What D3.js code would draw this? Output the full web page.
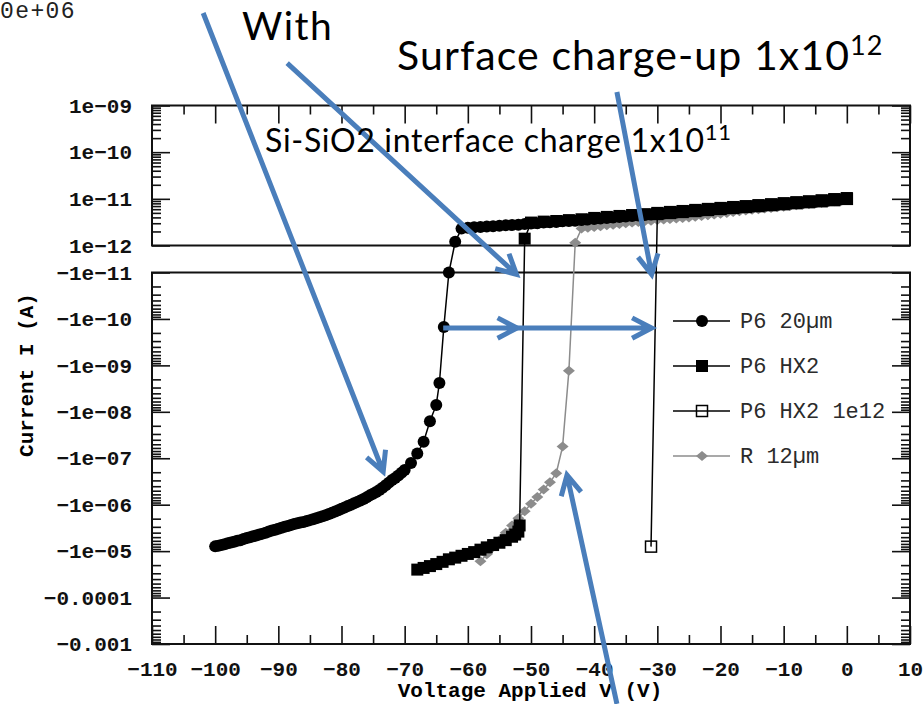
<!DOCTYPE html>
<html>
<head>
<meta charset="utf-8">
<script src="https://cdn.jsdelivr.net/npm/d3@7"></script>
<style>
  body { margin: 0; background: #fff; }
  svg { display: block; }
</style>
</head>
<body>
<svg width="924" height="704"></svg>
<script>
// axis ticks and labels
var xTicks = [-110, -100, -90, -80, -70, -60, -50, -40, -30, -20, -10, 0, 10];
var xMinor = [-105, -95, -85, -75, -65, -55, -45, -35, -25, -15, -5, 5];
var topTicks = [1e-9, 1e-10, 1e-11, 1e-12];
var topTickLabels = ["1e\u221209", "1e\u221210", "1e\u221211", "1e\u221212"];
var bottomTicks = [1e-11, 1e-10, 1e-9, 1e-8, 1e-7, 1e-6, 1e-5, 1e-4, 1e-3];
var bottomTickLabels = ["\u22121e\u221211", "\u22121e\u221210", "\u22121e\u221209", "\u22121e\u221208",
    "\u22121e\u221207", "\u22121e\u221206", "\u22121e\u221205", "\u22120.0001", "\u22120.001"];
var seriesNames = ["P6 20\u00b5m", "P6 HX2", "P6 HX2 1e12", "R 12\u00b5m"];

// [voltage V, current A]
var p6_20um = [
    [-100, -7.9e-6], [-99.5, -7.65e-6], [-99, -7.4e-6], [-98.5, -7.1e-6], [-98, -6.8e-6], [-97.5, -6.55e-6],
    [-97, -6.3e-6], [-96.5, -6.0e-6], [-96, -5.8e-6], [-95.5, -5.5e-6], [-95, -5.2e-6], [-94.5, -5.0e-6],
    [-94, -4.8e-6], [-93.5, -4.6e-6], [-93, -4.4e-6], [-92.5, -4.2e-6], [-92, -4.0e-6], [-91.5, -3.8e-6],
    [-91, -3.6e-6], [-90.5, -3.45e-6], [-90, -3.3e-6], [-89.5, -3.15e-6], [-89, -3.0e-6], [-88.5, -2.87e-6],
    [-88, -2.75e-6], [-87.5, -2.62e-6], [-87, -2.5e-6], [-86.5, -2.42e-6], [-86, -2.35e-6], [-85.5, -2.25e-6],
    [-85, -2.15e-6], [-84.5, -2.05e-6], [-84, -1.95e-6], [-83.5, -1.86e-6], [-83, -1.78e-6], [-82.5, -1.68e-6],
    [-82, -1.58e-6], [-81.5, -1.5e-6], [-81, -1.41e-6], [-80.5, -1.32e-6], [-80, -1.23e-6], [-79.5, -1.15e-6],
    [-79, -1.07e-6], [-78.5, -1.0e-6], [-78, -9.3e-7], [-77.5, -8.7e-7], [-77, -8.1e-7], [-76.5, -7.5e-7],
    [-76, -6.9e-7], [-75.5, -6.3e-7], [-75, -5.8e-7], [-74.5, -5.3e-7], [-74, -4.8e-7], [-73.5, -4.3e-7],
    [-73, -3.8e-7], [-72.5, -3.35e-7], [-72, -2.95e-7], [-71.5, -2.65e-7], [-71, -2.35e-7], [-70.5, -2.05e-7],
    [-70, -1.8e-7], [-69, -1.26e-7], [-68, -7.9e-8], [-67, -4.4e-8], [-66, -1.6e-8], [-65, -7.1e-9],
    [-64.5, -2.4e-9], [-63.8, -1.5e-10], [-63, -1.0e-11],
    [-62, 1.2e-12], [-61, 2.3e-12], [-60, 2.4e-12], [-59, 2.45e-12], [-58, 2.5e-12], [-57, 2.55e-12],
    [-56, 2.6e-12], [-55, 2.65e-12], [-54, 2.7e-12], [-53, 2.75e-12], [-52, 2.8e-12], [-51, 2.9e-12],
    [-50, 2.95e-12], [-49, 3.0e-12], [-48, 3.1e-12], [-47, 3.15e-12], [-46, 3.2e-12], [-45, 3.3e-12],
    [-44, 3.35e-12], [-43, 3.4e-12], [-42, 3.5e-12], [-41, 3.6e-12], [-40, 3.7e-12], [-39, 3.8e-12],
    [-38, 3.9e-12], [-37, 4.0e-12], [-36, 4.1e-12], [-35, 4.2e-12], [-34, 4.3e-12], [-33, 4.4e-12],
    [-32, 4.5e-12], [-31, 4.6e-12], [-30, 4.75e-12], [-29, 4.85e-12], [-28, 5.0e-12], [-27, 5.1e-12],
    [-26, 5.25e-12], [-25, 5.4e-12], [-24, 5.5e-12], [-23, 5.65e-12], [-22, 5.8e-12], [-21, 5.95e-12],
    [-20, 6.1e-12], [-19, 6.25e-12], [-18, 6.4e-12], [-17, 6.55e-12], [-16, 6.7e-12], [-15, 6.85e-12],
    [-14, 7.0e-12], [-13, 7.2e-12], [-12, 7.35e-12], [-11, 7.5e-12], [-10, 7.7e-12], [-9, 7.9e-12],
    [-8, 8.1e-12], [-7, 8.3e-12], [-6, 8.5e-12], [-5, 8.7e-12], [-4, 8.9e-12], [-3, 9.2e-12],
    [-2, 9.4e-12], [-1, 9.7e-12], [0, 1.0e-11]
];
var p6_hx2 = [
    [-68, -2.5e-5], [-67, -2.3e-5], [-66, -2.1e-5], [-65, -1.9e-5], [-64, -1.7e-5], [-63, -1.5e-5],
    [-62, -1.38e-5], [-61, -1.26e-5], [-60, -1.15e-5], [-59, -1.05e-5], [-58, -9.3e-6], [-57, -8.3e-6],
    [-56, -7.4e-6], [-55, -6.6e-6], [-54, -5.8e-6], [-53, -4.9e-6], [-52.5, -4.4e-6], [-52, -3.8e-6],
    [-51.8, -2.8e-6],
    [-51, 1.4e-12], [-50, 3.1e-12], [-48, 3.25e-12], [-46, 3.35e-12], [-44, 3.5e-12], [-42, 3.65e-12],
    [-40, 3.9e-12], [-38, 4.1e-12], [-36, 4.3e-12], [-34, 4.5e-12], [-32, 4.7e-12], [-30, 5.0e-12],
    [-28, 5.25e-12], [-26, 5.5e-12], [-24, 5.8e-12], [-22, 6.1e-12], [-20, 6.4e-12], [-18, 6.7e-12],
    [-16, 7.0e-12], [-14, 7.35e-12], [-12, 7.7e-12], [-10, 8.1e-12], [-8, 8.5e-12], [-6, 8.9e-12],
    [-4, 9.35e-12], [-2, 9.9e-12], [0, 1.04e-11]
];
var p6_hx2_1e12 = [
    [-31, -8.0e-6],
    [-30, 4.75e-12], [-28, 5.0e-12], [-26, 5.25e-12], [-24, 5.5e-12], [-22, 5.8e-12], [-20, 6.1e-12],
    [-18, 6.4e-12], [-16, 6.7e-12], [-14, 7.0e-12], [-12, 7.35e-12], [-10, 7.7e-12], [-8, 8.1e-12],
    [-6, 8.5e-12], [-4, 8.9e-12], [-2, 9.4e-12], [0, 1.0e-11]
];
var r_12um = [
    [-58, -1.66e-5], [-57, -1.17e-5], [-56, -8.1e-6], [-55, -5.8e-6], [-54, -4.0e-6], [-53, -2.8e-6],
    [-52, -1.95e-6], [-51, -1.38e-6], [-50, -9.5e-7], [-49, -6.8e-7], [-48, -4.7e-7], [-47, -3.3e-7],
    [-46, -2.1e-7], [-45, -5.6e-8], [-44, -1.3e-9],
    [-43, 1.15e-12], [-42, 2.3e-12], [-41, 2.4e-12], [-40, 2.5e-12], [-39, 2.6e-12], [-38, 2.7e-12],
    [-37, 2.8e-12], [-36, 2.9e-12], [-35, 3.0e-12], [-34, 3.1e-12], [-33, 3.2e-12], [-32, 3.3e-12],
    [-31, 3.4e-12], [-30, 3.5e-12], [-29, 3.6e-12], [-28, 3.7e-12], [-27, 3.8e-12], [-26, 3.9e-12],
    [-25, 4.0e-12], [-24, 4.15e-12], [-23, 4.3e-12], [-22, 4.45e-12], [-21, 4.6e-12], [-20, 4.8e-12],
    [-19, 5.0e-12], [-18, 5.2e-12], [-17, 5.4e-12], [-16, 5.6e-12], [-15, 5.8e-12], [-14, 6.0e-12],
    [-13, 6.2e-12], [-12, 6.4e-12], [-11, 6.6e-12], [-10, 6.8e-12], [-9, 7.0e-12], [-8, 7.25e-12],
    [-7, 7.5e-12], [-6, 7.75e-12], [-5, 8.0e-12], [-4, 8.3e-12], [-3, 8.6e-12], [-2, 8.9e-12],
    [-1, 9.2e-12], [0, 9.5e-12]
];

// callout arrows, in data units [V, I]
var arrows = [
    { from: [-101.9, 9.6e-8], to: [-73.4, -1.95e-7] },
    { from: [-88.6, 8.1e-9], to: [-52.3, -1.1e-11] },
    { from: [-36.4, 1.94e-9], to: [-30.9, -1.1e-11] },
    { from: [-63.9, -1.57e-10], to: [-52.2, -1.57e-10] },
    { from: [-52.2, -1.57e-10], to: [-30.9, -1.57e-10] },
    { from: [-36.4, -0.0195], to: [-44.3, -2.3e-7] }
];

var svg = d3.select("svg");
var mono = "'Liberation Mono', 'Courier New', monospace";
var blue = "#4a7ebb", grey = "#8c8c8c";

var x = d3.scaleLinear().domain([-110, 10]).range([152, 910]);
var yTop = d3.scaleLog().domain([1e-12, 1e-9]).range([245.5, 105.5]);
var yBot = d3.scaleLog().domain([1e-11, 1e-3]).range([272.5, 644]);
function yPos(i) { return i > 0 ? yTop(i) : yBot(-i); }

function minorTicks(lo, hi) {
    var t = [];
    for (var e = lo; e < hi; e++)
        for (var m = 2; m <= 9; m++) t.push(m * Math.pow(10, e));
    return t;
}

function styleAxis(g) {
    g.select(".domain").remove();
    g.attr("font-family", mono).attr("font-size", 21).attr("font-weight", "bold");
    g.selectAll("line").attr("stroke", "#111").attr("stroke-width", 1.6);
    g.selectAll("text").attr("fill", "#111");
}

// top panel axes
svg.append("g").attr("transform", "translate(152,0)")
    .call(d3.axisLeft(yTop).tickValues(topTicks).tickFormat(function(d, i) { return topTickLabels[i]; })
        .tickSizeInner(-18).tickSizeOuter(0).tickPadding(20))
    .call(styleAxis);
svg.append("g").attr("transform", "translate(152,0)")
    .call(d3.axisLeft(yTop).tickValues(minorTicks(-12, -9)).tickFormat("").tickSizeInner(-9).tickSizeOuter(0))
    .call(styleAxis);
svg.append("g").attr("transform", "translate(910,0)")
    .call(d3.axisRight(yTop).tickValues(topTicks).tickFormat("").tickSizeInner(-18).tickSizeOuter(0))
    .call(styleAxis);
svg.append("g").attr("transform", "translate(910,0)")
    .call(d3.axisRight(yTop).tickValues(minorTicks(-12, -9)).tickFormat("").tickSizeInner(-9).tickSizeOuter(0))
    .call(styleAxis);
svg.append("g").attr("transform", "translate(0,105.5)")
    .call(d3.axisTop(x).tickValues(xTicks).tickFormat("").tickSizeInner(-18).tickSizeOuter(0))
    .call(styleAxis);
svg.append("g").attr("transform", "translate(0,105.5)")
    .call(d3.axisTop(x).tickValues(xMinor).tickFormat("").tickSizeInner(-9).tickSizeOuter(0))
    .call(styleAxis);

// bottom panel axes
svg.append("g").attr("transform", "translate(152,0)")
    .call(d3.axisLeft(yBot).tickValues(bottomTicks).tickFormat(function(d, i) { return bottomTickLabels[i]; })
        .tickSizeInner(-18).tickSizeOuter(0).tickPadding(20))
    .call(styleAxis);
svg.append("g").attr("transform", "translate(152,0)")
    .call(d3.axisLeft(yBot).tickValues(minorTicks(-11, -3)).tickFormat("").tickSizeInner(-9).tickSizeOuter(0))
    .call(styleAxis);
svg.append("g").attr("transform", "translate(910,0)")
    .call(d3.axisRight(yBot).tickValues(bottomTicks).tickFormat("").tickSizeInner(-18).tickSizeOuter(0))
    .call(styleAxis);
svg.append("g").attr("transform", "translate(910,0)")
    .call(d3.axisRight(yBot).tickValues(minorTicks(-11, -3)).tickFormat("").tickSizeInner(-9).tickSizeOuter(0))
    .call(styleAxis);
svg.append("g").attr("transform", "translate(0,644)")
    .call(d3.axisBottom(x).tickValues(xTicks)
        .tickFormat(function(d) { return d < 0 ? "\u2212" + (-d) : d; })
        .tickSizeInner(-18).tickSizeOuter(0).tickPadding(17))
    .call(styleAxis);
svg.append("g").attr("transform", "translate(0,644)")
    .call(d3.axisBottom(x).tickValues(xMinor).tickFormat("").tickSizeInner(-9).tickSizeOuter(0))
    .call(styleAxis);

// panel frames
[[yTop, 1e-9, 1e-12], [yBot, 1e-11, 1e-3]].forEach(function(p) {
    svg.append("rect")
        .attr("x", x(-110)).attr("y", p[0](p[1]))
        .attr("width", x(10) - x(-110)).attr("height", Math.abs(p[0](p[2]) - p[0](p[1])))
        .attr("fill", "none").attr("stroke", "#111").attr("stroke-width", 2);
});

// axis titles
svg.append("text")
    .attr("transform", "translate(33,375) rotate(-90)")
    .attr("text-anchor", "middle")
    .attr("font-family", mono).attr("font-weight", "bold").attr("font-size", 21)
    .text("Current I (A)");
svg.append("text")
    .attr("x", 530).attr("y", 697)
    .attr("text-anchor", "middle")
    .attr("font-family", mono).attr("font-weight", "bold").attr("font-size", 21)
    .text("Voltage Applied V (V)");
svg.append("text")
    .attr("x", 0).attr("y", 18)
    .attr("font-family", mono).attr("font-size", 23).attr("letter-spacing", 1.4).attr("fill", "#222")
    .text("0e+06");

// series
var line = d3.line()
    .x(function(d) { return x(d[0]); })
    .y(function(d) { return yPos(d[1]); });

function diamond(sel) {
    sel.append("path").attr("d", "M0,-5L6,0L0,5L-6,0Z").attr("fill", grey);
}
function circle(sel) {
    sel.append("circle").attr("r", 6).attr("fill", "#000");
}
function square(sel) {
    sel.append("rect").attr("x", -6).attr("y", -6).attr("width", 12).attr("height", 12).attr("fill", "#000");
}
function openSquare(sel) {
    sel.append("rect").attr("x", -5.5).attr("y", -5.5).attr("width", 11).attr("height", 11)
        .attr("fill", "none").attr("stroke", "#000").attr("stroke-width", 1.5);
}

var series = [
    { data: r_12um, color: grey, marker: diamond },
    { data: p6_hx2_1e12, color: "#000", marker: openSquare },
    { data: p6_hx2, color: "#000", marker: square },
    { data: p6_20um, color: "#000", marker: circle }
];

series.forEach(function(s) {
    var g = svg.append("g");
    g.append("path").datum(s.data)
        .attr("d", line)
        .attr("fill", "none").attr("stroke", s.color).attr("stroke-width", 1.5);
    g.selectAll("g.pt").data(s.data).enter().append("g")
        .attr("class", "pt")
        .attr("transform", function(d) { return "translate(" + x(d[0]) + "," + yPos(d[1]) + ")"; })
        .call(s.marker);
});

// legend
var legendMarkers = [circle, square, openSquare, diamond];
var legendColors = ["#000", "#000", "#000", grey];
var legend = svg.append("g").attr("transform", "translate(673,321)");
seriesNames.forEach(function(name, i) {
    var row = legend.append("g").attr("transform", "translate(0," + (i * 45) + ")");
    row.append("line").attr("x1", 0).attr("x2", 57).attr("y1", 0).attr("y2", 0)
        .attr("stroke", legendColors[i]).attr("stroke-width", 1.5);
    row.append("g").attr("transform", "translate(29,0)").call(legendMarkers[i]);
    row.append("text").attr("x", 67).attr("y", 7)
        .attr("font-family", mono).attr("font-size", 22).attr("fill", "#2b2b2b")
        .text(name);
});

// callouts
arrows.forEach(function(a) {
    var x1 = x(a.from[0]), y1 = yPos(a.from[1]);
    var x2 = x(a.to[0]), y2 = yPos(a.to[1]);
    var ang = Math.atan2(y2 - y1, x2 - x1), L = 22, h = 0.48;
    svg.append("path")
        .attr("d", "M" + x1 + "," + y1 + "L" + x2 + "," + y2 +
            "M" + (x2 - L * Math.cos(ang - h)) + "," + (y2 - L * Math.sin(ang - h)) +
            "L" + x2 + "," + y2 +
            "L" + (x2 - L * Math.cos(ang + h)) + "," + (y2 - L * Math.sin(ang + h)))
        .attr("fill", "none").attr("stroke", blue).attr("stroke-width", 5)
        .attr("stroke-linejoin", "miter");
});

var sans = "Lato, 'Open Sans', sans-serif";
svg.append("text").attr("x", 242).attr("y", 40)
    .attr("font-family", sans).attr("font-size", 39).attr("letter-spacing", 1.5).text("With");
var t1 = svg.append("text").attr("x", 397).attr("y", 70)
    .attr("font-family", sans).attr("font-size", 41).attr("letter-spacing", 1.1);
t1.append("tspan").text("Surface charge-up 1x10");
t1.append("tspan").attr("dy", -15).attr("font-size", 27).text("12");
var t2 = svg.append("text").attr("x", 265).attr("y", 152)
    .attr("font-family", sans).attr("font-size", 32).attr("letter-spacing", 0.7);
t2.append("tspan").text("Si-SiO2 interface charge 1x10");
t2.append("tspan").attr("dy", -12).attr("font-size", 22).text("11");
</script>
</body>
</html>
